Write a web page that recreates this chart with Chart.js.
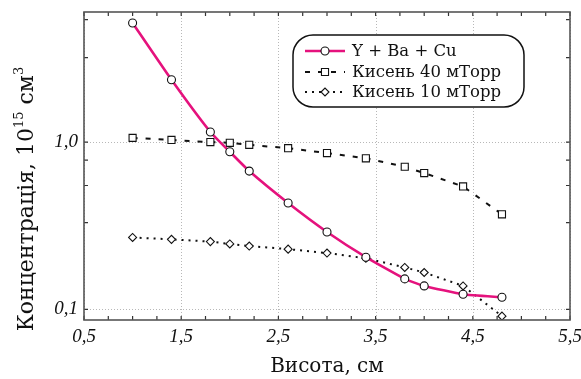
<!DOCTYPE html>
<html>
<head>
<meta charset="utf-8">
<script src="https://cdn.jsdelivr.net/npm/chart.js@4.4.1/dist/chart.umd.min.js"></script>
<style>
  html, body { margin: 0; padding: 0; background: #fff; }
  #wrap { width: 581px; height: 379px; }
</style>
</head>
<body>
<div id="wrap"><canvas id="c" width="581" height="379"></canvas></div>
<script>
// Heights above the target, cm
const heights = [1.0, 1.4, 1.8, 2.0, 2.2, 2.6, 3.0, 3.4, 3.8, 4.0, 4.4, 4.8];

// Concentrations, 10^15 cm^-3
const yBaCu    = [5.16, 2.36, 1.15, 0.875, 0.671, 0.432, 0.290, 0.205, 0.152, 0.138, 0.123, 0.118];
const oxygen40 = [1.06, 1.03, 1.00, 0.99, 0.963, 0.92, 0.86, 0.80, 0.712, 0.653, 0.543, 0.370];
const oxygen10 = [0.269, 0.262, 0.254, 0.246, 0.239, 0.229, 0.217, 0.202, 0.178, 0.166, 0.138, 0.091];

const seriesNames = ['Y + Ba + Cu', 'Кисень 40 мТорр', 'Кисень 10 мТорр'];

// Axis ticks
const xTicks = [0.5, 0.75, 1.0, 1.25, 1.5, 1.75, 2.0, 2.25, 2.5, 2.75, 3.0, 3.25, 3.5,
                3.75, 4.0, 4.25, 4.5, 4.75, 5.0, 5.25, 5.5];
const xMajorTicks = [0.5, 1.5, 2.5, 3.5, 4.5, 5.5];
const yMajorTicks = [0.1, 1.0];
const yMinorTicks = [0.33, 0.55, 0.78, 3.2, 5.4];

const xTitle = 'Висота, см';
const yTitleParts = [['Концентрація, 10', false], ['15', true], [' см', false], ['3', true]];

const fmt = v => v.toFixed(1).replace('.', ',');
const near = (arr, v) => arr.some(a => Math.abs(a - v) < 1e-9);

const toPoints = ys => heights.map((x, i) => ({ x, y: ys[i] }));

const tickFont = { family: 'Liberation Serif', style: 'italic', size: 19 };
const serif = 'DejaVu Serif';

const noPadding = s => { s.paddingTop = 0; s.paddingBottom = 0; s.paddingLeft = 0; s.paddingRight = 0; };

// Dotted grid at major ticks, frame box and inward tick marks
const framePlugin = {
  id: 'frame',
  beforeDatasetsDraw(chart) {
    const { ctx, chartArea: a, scales: { x, y } } = chart;
    ctx.save();
    ctx.strokeStyle = '#b8b8b8';
    ctx.lineWidth = 1;
    ctx.setLineDash([1, 2]);
    ctx.beginPath();
    xMajorTicks.forEach(v => {
      const px = Math.round(x.getPixelForValue(v)) + 0.5;
      ctx.moveTo(px, a.top); ctx.lineTo(px, a.bottom);
    });
    yMajorTicks.forEach(v => {
      const py = Math.round(y.getPixelForValue(v)) + 0.5;
      ctx.moveTo(a.left, py); ctx.lineTo(a.right, py);
    });
    ctx.stroke();
    ctx.restore();
  },
  afterDatasetsDraw(chart) {
    const { ctx, chartArea: a, scales: { x, y } } = chart;
    ctx.save();
    ctx.strokeStyle = '#333';
    ctx.lineWidth = 1.2;
    ctx.beginPath();
    xTicks.forEach(v => {
      const px = x.getPixelForValue(v);
      ctx.moveTo(px, a.bottom); ctx.lineTo(px, a.bottom - 4);
      ctx.moveTo(px, a.top); ctx.lineTo(px, a.top + 4);
    });
    yMajorTicks.concat(yMinorTicks).forEach(v => {
      const py = y.getPixelForValue(v);
      ctx.moveTo(a.left, py); ctx.lineTo(a.left + 4, py);
      ctx.moveTo(a.right, py); ctx.lineTo(a.right - 4, py);
    });
    ctx.stroke();
    ctx.strokeStyle = '#555';
    ctx.lineWidth = 1.6;
    ctx.strokeRect(a.left, a.top, a.right - a.left, a.bottom - a.top);
    ctx.restore();
  }
};

// Axis titles
const titlePlugin = {
  id: 'titles',
  afterDraw(chart) {
    const { ctx, chartArea: a } = chart;
    ctx.save();
    ctx.fillStyle = '#111';
    ctx.textBaseline = 'middle';
    ctx.textAlign = 'center';
    ctx.font = `20px "${serif}"`;
    ctx.fillText(xTitle, (a.left + a.right) / 2, 367);

    // vertical title with superscripts
    const big = `22px "${serif}"`, small = `13px "${serif}"`;
    let total = 0;
    yTitleParts.forEach(([t, sup]) => { ctx.font = sup ? small : big; total += ctx.measureText(t).width; });
    ctx.translate(25, 199);
    ctx.rotate(-Math.PI / 2);
    ctx.textAlign = 'left';
    ctx.textBaseline = 'alphabetic';
    let cx = -total / 2;
    yTitleParts.forEach(([t, sup]) => {
      ctx.font = sup ? small : big;
      ctx.fillText(t, cx, sup ? -2 : 8);
      cx += ctx.measureText(t).width;
    });
    ctx.restore();
  }
};

// Legend in a rounded box
const legendPlugin = {
  id: 'boxLegend',
  afterDraw(chart) {
    const { ctx } = chart;
    ctx.save();
    ctx.fillStyle = '#fff';
    ctx.strokeStyle = '#111';
    ctx.lineWidth = 1.5;
    ctx.beginPath();
    ctx.roundRect(293, 35, 231, 72, 20);
    ctx.fill();
    ctx.stroke();
    const rows = [51, 72, 92];
    chart.data.datasets.forEach((ds, i) => {
      const yy = rows[i];
      ctx.save();
      ctx.strokeStyle = ds.borderColor;
      ctx.lineWidth = ds.borderWidth;
      ctx.setLineDash(ds.borderDash || []);
      ctx.beginPath();
      ctx.moveTo(305, yy); ctx.lineTo(345, yy);
      ctx.stroke();
      ctx.restore();
      ctx.save();
      ctx.setLineDash([]);
      ctx.fillStyle = ds.pointBackgroundColor;
      ctx.strokeStyle = ds.pointBorderColor;
      ctx.lineWidth = ds.pointBorderWidth;
      Chart.helpers.drawPoint(ctx, {
        pointStyle: ds.pointStyle,
        radius: ds.pointRadius,
        rotation: 0,
        borderWidth: ds.pointBorderWidth
      }, 325, yy);
      ctx.restore();
      ctx.fillStyle = '#111';
      ctx.font = `16.5px "${serif}"`;
      ctx.textBaseline = 'middle';
      ctx.textAlign = 'left';
      ctx.fillText(ds.label, 352, yy + 1);
    });
    ctx.restore();
  }
};

new Chart(document.getElementById('c'), {
  type: 'line',
  data: {
    datasets: [
      {
        label: seriesNames[0],
        data: toPoints(yBaCu),
        borderColor: '#e5127d',
        borderWidth: 2.6,
        tension: 0.15,
        pointStyle: 'circle',
        pointRadius: 4,
        pointBackgroundColor: '#fff',
        pointBorderColor: '#111',
        pointBorderWidth: 1.1
      },
      {
        label: seriesNames[1],
        data: toPoints(oxygen40),
        borderColor: '#111',
        borderWidth: 2,
        borderDash: [5, 8],
        tension: 0,
        pointStyle: 'rect',
        pointRadius: 5,
        pointBackgroundColor: '#fff',
        pointBorderColor: '#111',
        pointBorderWidth: 1.1
      },
      {
        label: seriesNames[2],
        data: toPoints(oxygen10),
        borderColor: '#111',
        borderWidth: 2,
        borderDash: [2, 5],
        tension: 0,
        pointStyle: 'rectRot',
        pointRadius: 4,
        pointBackgroundColor: '#fff',
        pointBorderColor: '#111',
        pointBorderWidth: 1.1
      }
    ]
  },
  options: {
    responsive: false,
    animation: false,
    devicePixelRatio: 1,
    layout: { padding: { top: 12, right: 11, left: 0, bottom: 0 } },
    plugins: { legend: { display: false }, tooltip: { enabled: false } },
    scales: {
      x: {
        type: 'linear',
        min: 0.5,
        max: 5.5,
        grid: { display: false, drawTicks: false },
        border: { display: false },
        afterBuildTicks: s => { s.ticks = xTicks.map(v => ({ value: v })); },
        afterFit: s => { s.height = 59; noPadding(s); },
        ticks: {
          autoSkip: false,
          maxRotation: 0,
          padding: 6,
          color: '#111',
          font: tickFont,
          callback: v => near(xMajorTicks, v) ? fmt(v) : ''
        }
      },
      y: {
        type: 'logarithmic',
        min: 0.0863,
        max: 6.0,
        grid: { display: false, drawTicks: false },
        border: { display: false },
        afterBuildTicks: s => { s.ticks = yMajorTicks.concat(yMinorTicks).map(v => ({ value: v })); },
        afterFit: s => { s.width = 84; noPadding(s); },
        ticks: {
          autoSkip: false,
          padding: 6,
          color: '#111',
          font: tickFont,
          callback: v => near(yMajorTicks, v) ? fmt(v) : ''
        }
      }
    }
  },
  plugins: [framePlugin, titlePlugin, legendPlugin]
});
</script>
</body>
</html>
